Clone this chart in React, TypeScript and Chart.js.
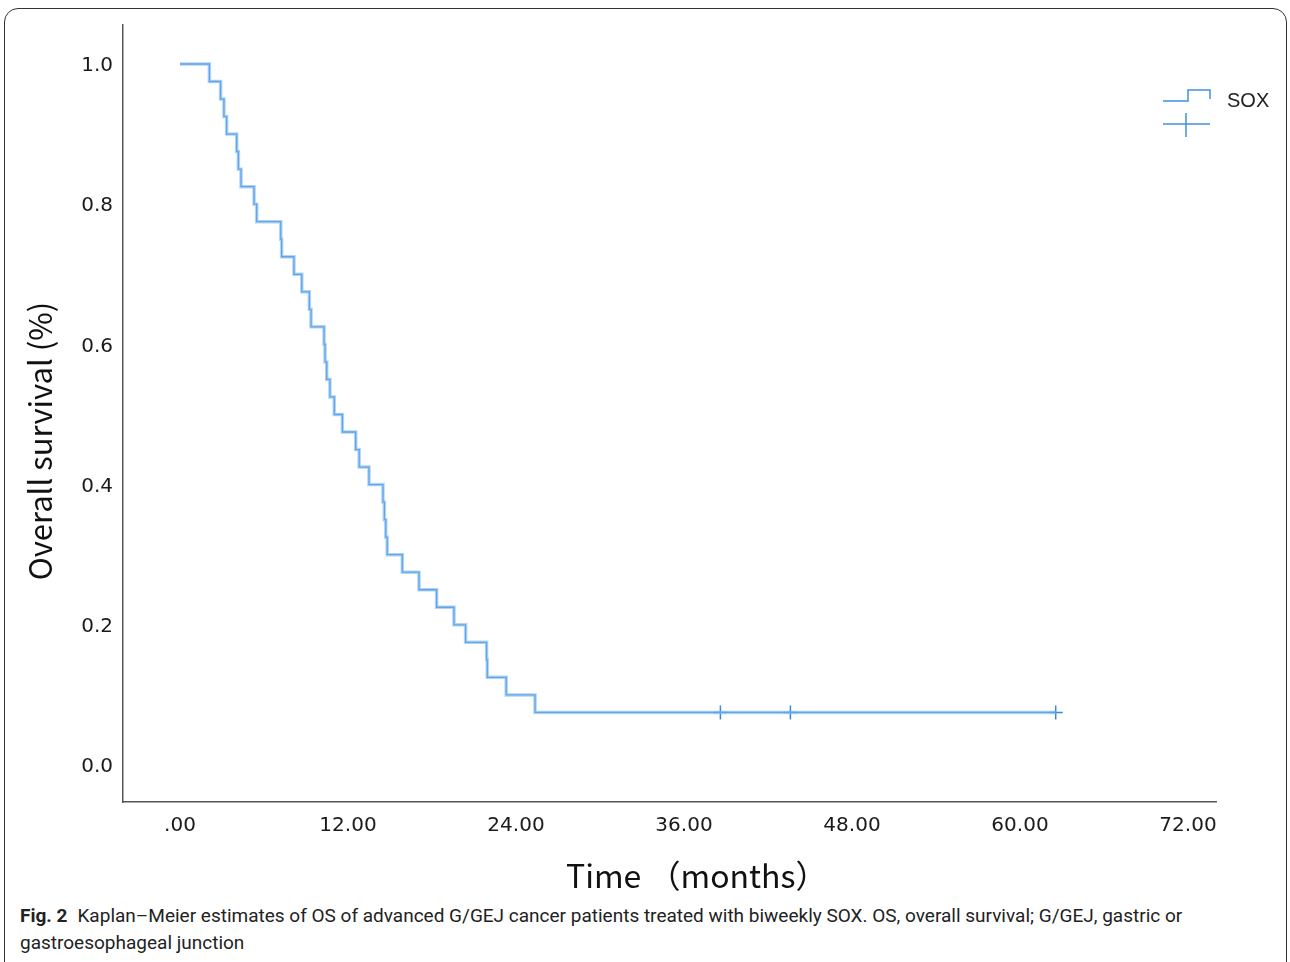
import React, { useEffect, useRef } from "react";
import { Chart, registerables } from "chart.js";

Chart.register(...registerables);

// Kaplan–Meier step data (months, survival proportion)
const eventTimes = [
  0, 2.1, 2.9, 3.14, 3.33, 4.05, 4.17, 4.36, 5.29, 5.48, 7.2, 7.26, 8.14, 8.7,
  9.24, 9.36, 10.29, 10.36, 10.48, 10.71, 11.02, 11.6, 12.55, 12.8, 13.5, 14.5,
  14.6, 14.7, 14.8, 15.88, 17.07, 18.33, 19.57, 20.4, 21.9, 21.95, 23.3, 25.36,
];
const survival = [
  1.0, 0.975, 0.95, 0.925, 0.9, 0.875, 0.85, 0.825, 0.8, 0.775, 0.75, 0.725,
  0.7, 0.675, 0.65, 0.625, 0.6, 0.575, 0.55, 0.525, 0.5, 0.475, 0.45, 0.425,
  0.4, 0.375, 0.35, 0.325, 0.3, 0.275, 0.25, 0.225, 0.2, 0.175, 0.15, 0.125,
  0.1, 0.075,
];
const censorTimes = [38.6, 43.6, 62.55];
const censorSurvival = [0.075, 0.075, 0.075];

const xTickValues = [0, 12, 24, 36, 48, 60, 72];
const yTickValues = [0, 0.2, 0.4, 0.6, 0.8, 1.0];

const seriesName = "SOX";
const xTitle = "Time （months）";
const yTitle = "Overall survival (%)";

const LINE_CORE = "#3489de";
const LINE_HALO = "rgba(125,183,240,0.6)";
const TICK_FONT = "'DejaVu Sans', sans-serif";

export default function App() {
  const canvasRef = useRef<HTMLCanvasElement | null>(null);

  useEffect(() => {
    const canvas = canvasRef.current;
    if (!canvas) return;

    const stepData = eventTimes.map((t, i) => ({ x: t, y: survival[i] }));
    stepData.push({
      x: censorTimes[censorTimes.length - 1],
      y: survival[survival.length - 1],
    });
    const censorData = censorTimes.map((t, i) => ({ x: t, y: censorSurvival[i] }));

    const decorPlugin = {
      id: "decor",
      afterDraw(chart: any) {
        const ctx = chart.ctx as CanvasRenderingContext2D;
        ctx.save();
        // x title
        ctx.fillStyle = "#111";
        ctx.font = '32px "Noto Sans CJK SC"';
        ctx.textAlign = "left";
        ctx.textBaseline = "alphabetic";
        ctx.fillText(xTitle, 566, 888);
        // y title
        ctx.save();
        ctx.translate(52, 441);
        ctx.rotate(-Math.PI / 2);
        ctx.textAlign = "center";
        ctx.font = '31px "Noto Sans CJK SC"';
        ctx.fillText(yTitle, 0, 0);
        ctx.restore();
        // legend glyphs
        ctx.strokeStyle = "#3f91e0";
        ctx.lineWidth = 1.5;
        ctx.beginPath();
        ctx.moveTo(1163, 101);
        ctx.lineTo(1188, 101);
        ctx.lineTo(1188, 90);
        ctx.lineTo(1210, 90);
        ctx.lineTo(1210, 99);
        ctx.stroke();
        ctx.beginPath();
        ctx.moveTo(1163, 124);
        ctx.lineTo(1210, 124);
        ctx.moveTo(1186, 113);
        ctx.lineTo(1186, 137);
        ctx.stroke();
        ctx.fillStyle = "#222";
        ctx.font = '20px "Liberation Sans"';
        ctx.textAlign = "left";
        ctx.textBaseline = "middle";
        ctx.fillText(seriesName, 1227, 101);
        ctx.restore();
      },
    };

    const chart = new Chart(canvas, {
      type: "line",
      data: {
        datasets: [
          {
            type: "line",
            data: stepData,
            stepped: true,
            borderColor: LINE_HALO,
            borderWidth: 3.5,
            pointRadius: 0,
            fill: false,
          },
          {
            type: "line",
            label: seriesName,
            data: stepData,
            stepped: true,
            borderColor: LINE_CORE,
            borderWidth: 1.3,
            pointRadius: 0,
            fill: false,
          },
          {
            type: "scatter",
            data: censorData,
            pointStyle: "cross",
            pointRadius: 7,
            borderColor: LINE_CORE,
            borderWidth: 1.5,
            showLine: false,
          },
        ],
      } as any,
      options: {
        responsive: false,
        animation: false,
        events: [],
        layout: { padding: { top: 25, right: 74, bottom: 0, left: 0 } },
        plugins: { legend: { display: false }, tooltip: { enabled: false } },
        scales: {
          x: {
            type: "linear",
            min: -4.071,
            max: 74.0,
            afterBuildTicks: (s: any) => {
              s.ticks = xTickValues.map((v) => ({ value: v }));
            },
            afterFit: (s: any) => {
              s.height = 98;
            },
            grid: { display: false, drawTicks: false },
            border: { display: true, color: "#555", width: 1.5 },
            ticks: {
              font: { family: TICK_FONT, size: 20 },
              color: "#1a1a1a",
              padding: 12,
              maxRotation: 0,
              autoSkip: false,
              callback: (v: any) => (Number(v) === 0 ? ".00" : Number(v).toFixed(2)),
            },
          },
          y: {
            type: "linear",
            min: -0.0528,
            max: 1.0556,
            afterBuildTicks: (s: any) => {
              s.ticks = yTickValues.map((v) => ({ value: v }));
            },
            afterFit: (s: any) => {
              s.width = 123;
            },
            grid: { display: false, drawTicks: false },
            border: { display: true, color: "#555", width: 1.5 },
            ticks: {
              font: { family: TICK_FONT, size: 20 },
              color: "#1a1a1a",
              padding: 10,
              labelOffset: 2,
              autoSkip: false,
              callback: (v: any) => Number(v).toFixed(1),
            },
          },
        },
      } as any,
      plugins: [decorPlugin],
    });

    return () => chart.destroy();
  }, []);

  return (
    <div
      style={{
        position: "fixed",
        left: 0,
        top: 0,
        width: 1290,
        height: 962,
        background: "#fff",
        overflow: "hidden",
      }}
    >
      <div
        style={{
          position: "absolute",
          left: 4,
          top: 8,
          width: 1283,
          height: 1000,
          border: "1.5px solid #333",
          borderRadius: 14,
          boxSizing: "border-box",
        }}
      />
      <canvas
        ref={canvasRef}
        width={1290}
        height={900}
        style={{ position: "absolute", left: 0, top: 0, width: 1290, height: 900 }}
      />
      <div
        style={{
          position: "absolute",
          left: 20,
          top: 902,
          fontFamily: "Roboto",
          fontSize: 19,
          lineHeight: "27px",
          color: "#222",
          whiteSpace: "nowrap",
        }}
      >
        <span style={{ fontWeight: "bold" }}>Fig. 2</span>
        <span style={{ marginLeft: 10 }}>
          Kaplan–Meier estimates of OS of advanced G/GEJ cancer patients treated with biweekly SOX. OS, overall survival; G/GEJ, gastric or
        </span>
        <br />
        <span>gastroesophageal junction</span>
      </div>
    </div>
  );
}
